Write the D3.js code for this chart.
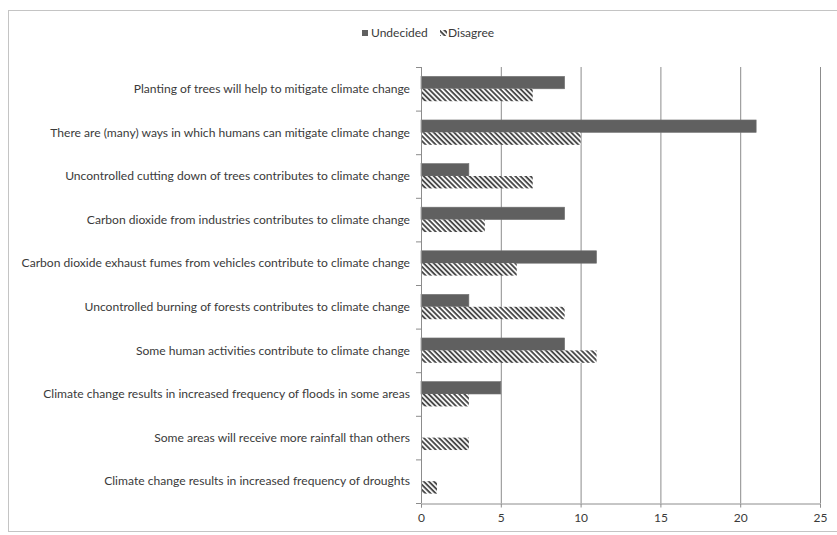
<!DOCTYPE html>
<html>
<head>
<meta charset="utf-8">
<script src="https://cdn.jsdelivr.net/npm/d3@7"></script>
<style>
  html, body { margin: 0; padding: 0; background: #fff; }
  svg { display: block; }
  text { font-family: Lato, "Open Sans", sans-serif; fill: #3a3a3a; }
</style>
</head>
<body>
<svg id="chart" width="837" height="535"></svg>
<script>
// Survey statements, top to bottom
const categories = [
  "Planting of trees will help to mitigate climate change",
  "There are (many) ways in which humans can mitigate climate change",
  "Uncontrolled cutting down of trees contributes to climate change",
  "Carbon dioxide from industries contributes to climate change",
  "Carbon dioxide exhaust fumes from vehicles contribute to climate change",
  "Uncontrolled burning of forests contributes to climate change",
  "Some human activities contribute to climate change",
  "Climate change results in increased frequency of floods in some areas",
  "Some areas will receive more rainfall than others",
  "Climate change results in increased frequency of droughts"
];
const seriesNames = ["Undecided", "Disagree"];
const undecided = [9, 21, 3, 9, 11, 3, 9, 5, 0, 0];
const disagree  = [7, 10, 7, 4, 6, 9, 11, 3, 3, 1];
const xTicks = [0, 5, 10, 15, 20, 25];

const svg = d3.select("#chart");

// Hatch pattern for the "Disagree" series
const defs = svg.append("defs");
const hatch = defs.append("pattern")
  .attr("id", "hatch")
  .attr("patternUnits", "userSpaceOnUse")
  .attr("width", 3.6).attr("height", 3.6)
  .attr("patternTransform", "rotate(45)");
hatch.append("rect").attr("width", 3.6).attr("height", 3.6).attr("fill", "#fff");
hatch.append("rect").attr("width", 3.6).attr("height", 1.9).attr("fill", "#4a4a4a");

// Outer chart frame
svg.append("rect")
  .attr("x", 8.5).attr("y", 10.5)
  .attr("width", 840).attr("height", 521)
  .attr("fill", "#fff").attr("stroke", "#c4c4c4");

const plot = { left: 421, right: 820, top: 67, bottom: 503 };

const x = d3.scaleLinear().domain([0, 25]).range([plot.left, plot.right]);
const y = d3.scaleBand().domain(categories).range([plot.top, plot.bottom])
  .paddingInner(0.43).paddingOuter(0.215);
const ySub = d3.scaleBand().domain(seriesNames).range([0, y.bandwidth()]);

const fills = { Undecided: "#606060", Disagree: "url(#hatch)" };

// Vertical gridlines
svg.append("g").selectAll("line")
  .data(xTicks.filter(d => d > 0))
  .join("line")
  .attr("x1", d => x(d) + 0.5).attr("x2", d => x(d) + 0.5)
  .attr("y1", plot.top).attr("y2", plot.bottom)
  .attr("stroke", "#8c8c8c").attr("stroke-width", 1);

// Bars
const rows = categories.map((c, i) => ({ c, Undecided: undecided[i], Disagree: disagree[i] }));
const groups = svg.append("g").selectAll("g")
  .data(rows).join("g")
  .attr("transform", d => `translate(0,${y(d.c)})`);
groups.selectAll("rect")
  .data(d => seriesNames.map(s => ({ s, v: d[s] })).filter(e => e.v > 0))
  .join("rect")
  .attr("x", x(0))
  .attr("y", d => ySub(d.s))
  .attr("width", d => x(d.v) - x(0))
  .attr("height", ySub.bandwidth())
  .attr("fill", d => fills[d.s])
  .attr("stroke", d => d.s === "Undecided" ? "#727272" : "none")
  .attr("stroke-width", 0.6);

// Bottom axis
const xAxis = d3.axisBottom(x).tickValues(xTicks).tickSize(4).tickPadding(6);
const gx = svg.append("g")
  .attr("transform", `translate(0,${plot.bottom + 0.5})`)
  .call(xAxis);
gx.select(".domain").attr("stroke", "#8c8c8c");
gx.selectAll(".tick line").attr("stroke", "#8c8c8c");
gx.selectAll(".tick text").style("font-size", "12px").style("font-family", "Lato, sans-serif").attr("fill", "#555");

// Left axis with ticks on category boundaries
const gy = svg.append("g");
gy.append("line")
  .attr("x1", x(0) + 0.5).attr("x2", x(0) + 0.5)
  .attr("y1", plot.top).attr("y2", plot.bottom)
  .attr("stroke", "#8c8c8c");
const step = y.step();
gy.selectAll("line.b")
  .data(d3.range(categories.length + 1))
  .join("line").attr("class", "b")
  .attr("x1", x(0) - 5).attr("x2", x(0))
  .attr("y1", i => plot.top + i * step + 0.5)
  .attr("y2", i => plot.top + i * step + 0.5)
  .attr("stroke", "#8c8c8c");
gy.selectAll("text")
  .data(categories).join("text")
  .attr("x", 410)
  .attr("y", d => y(d) + y.bandwidth() / 2)
  .attr("text-anchor", "end")
  .attr("dy", "0.35em")
  .style("font-size", "12.1px")
  .text(d => d);

// Legend
const legend = svg.append("g").attr("transform", "translate(362,33)");
legend.append("rect").attr("x", 0).attr("y", -3).attr("width", 6).attr("height", 6).attr("fill", "#606060");
legend.append("text").attr("x", 9).attr("y", 0).attr("dy", "0.35em").style("font-size", "12px").text(seriesNames[0]);
legend.append("rect").attr("x", 78).attr("y", -3).attr("width", 7).attr("height", 6).attr("fill", "url(#hatch)");
legend.append("text").attr("x", 86).attr("y", 0).attr("dy", "0.35em").style("font-size", "12px").text(seriesNames[1]);
</script>
</body>
</html>
